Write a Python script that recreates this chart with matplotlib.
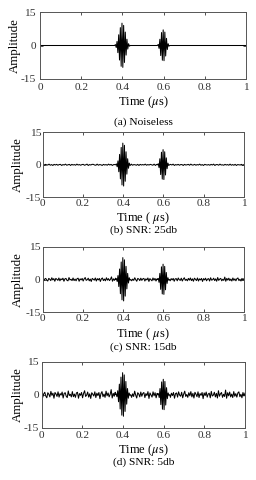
import numpy as np
import matplotlib
matplotlib.use("Agg")
import matplotlib.pyplot as plt

plt.rcParams['font.family'] = ['Liberation Serif', 'DejaVu Serif']
plt.rcParams['mathtext.fontset'] = 'stix'
plt.rcParams['axes.unicode_minus'] = False

# wave packet extrema (time in us, amplitude)
burst1_t = [0.362, 0.366, 0.370, 0.374, 0.378, 0.382, 0.386, 0.390, 0.394, 0.398,
            0.402, 0.406, 0.410, 0.414, 0.418, 0.422, 0.426, 0.430, 0.434, 0.438]
burst1_amp = [0.0, 0.4, -0.9, 1.8, -3.2, 4.8, -6.5, 8.0, -9.3, 10.0,
              -9.8, 9.0, -7.6, 6.0, -4.3, 2.8, -1.6, 0.8, -0.3, 0.0]
burst2_t = [0.570, 0.574, 0.578, 0.582, 0.586, 0.590, 0.594, 0.598,
            0.602, 0.606, 0.610, 0.614, 0.618, 0.622, 0.626, 0.630]
burst2_amp = [0.0, 0.5, -1.3, 2.8, -4.5, 5.8, -6.6, 7.0,
              -6.8, 6.0, -4.7, 3.2, -1.8, 0.8, -0.3, 0.0]

# background noise, sampled evenly over 0..1 us
noise_a = [0.0, 0.0]
noise_b = [0.1, -0.2, 0.2, 0.0, -0.1, 0.3, -0.2, 0.1, -0.3, 0.2,
           -0.1, 0.2, -0.2, 0.1, 0.2, -0.3, 0.1, -0.1, 0.3, -0.2,
           0.0, 0.2, -0.3, 0.2, -0.1, 0.1, -0.2, 0.3, -0.1, 0.1,
           -0.2, 0.1, 0.2, -0.2, 0.0, 0.3, -0.3, 0.1, -0.1, 0.2,
           0.2, -0.1, -0.2, 0.3, -0.2, 0.1, 0.0, -0.3, 0.2, -0.1,
           0.1, -0.2, 0.3, -0.1, 0.2, -0.3, 0.1, 0.1, -0.2, 0.2,
           -0.3, 0.2, -0.1, 0.1, -0.2, 0.3, -0.1, -0.1, 0.2, -0.2,
           0.3, -0.2, 0.1, 0.0, -0.2, 0.2, -0.3, 0.2, -0.1, 0.1,
           -0.1, 0.3, -0.2, 0.1, -0.1, 0.2, 0.0, -0.2, 0.3, -0.3,
           0.2, -0.1, 0.1, -0.3, 0.2, -0.1, 0.2, -0.2, 0.1, 0.0,
           -0.2, 0.2, -0.1, 0.3, -0.3, 0.1, -0.1, 0.2, -0.2, 0.1,
           0.1, -0.3, 0.2, -0.1, 0.0, 0.2, -0.2, 0.3, -0.1, -0.1,
           0.2, -0.2, 0.1, -0.1, 0.3, -0.2, 0.1, -0.3, 0.2, 0.0,
           -0.1, 0.1, -0.2, 0.2, -0.1, 0.3, -0.3, 0.1, 0.1, -0.2,
           0.3, -0.1, 0.0, -0.2, 0.2, -0.1, 0.1, -0.2, 0.3, -0.2,
           0.1, -0.2, 0.2, -0.3, 0.1, 0.0, -0.1, 0.2, -0.2, 0.1]
noise_c = [0.4, -0.6, 0.2, 0.5, -0.3, -0.7, 0.5, 0.1, -0.5, 0.8,
           -0.2, 0.4, -0.8, 0.5, 0.1, -0.4, 0.7, -0.6, 0.3, -0.1,
           0.6, -0.8, 0.3, 0.5, -0.4, -0.6, 0.9, -0.2, 0.1, -0.5,
           0.7, -0.5, 0.2, -0.6, 0.4, 0.6, -0.8, 0.3, -0.2, 0.5,
           -0.7, 0.3, 0.9, -0.4, -0.1, 0.6, -0.6, 0.2, -0.9, 0.5,
           0.1, -0.3, 0.7, -0.7, 0.4, -0.2, 0.5, -0.9, 0.3, 0.7,
           -0.5, 0.2, -0.6, 0.8, -0.3, 0.4, -0.5, 0.1, 1.2, -0.8,
           0.3, -0.4, 0.6, -0.7, 0.2, 0.5, -0.8, 0.6, -0.2, -0.5,
           0.8, -0.6, 0.1, 0.4, -0.7, 0.5, -0.3, 0.7, -0.6, 0.2,
           -0.4, 0.8, -0.1, -0.8, 0.5, 0.2, -0.5, 0.6, -0.4, 0.3,
           0.5, -0.7, 0.3, -0.2, 0.7, -0.9, 0.4, -0.1, -0.6, 0.7,
           -0.3, 0.5, -0.7, 0.3, 0.6, -0.5, 0.1, -0.7, 0.9, -0.3,
           0.2, -0.5, 0.6, -0.2, -0.4, 0.8, -0.6, 0.4, -0.2, 0.5,
           -0.8, 0.3, 0.4, -0.6, 0.7, -0.1, -0.4, 0.6, -0.7, 0.2,
           0.8, -0.4, 0.1, -0.6, 0.5, -0.3, 0.7, -0.5, 0.3, -0.8,
           0.6, 0.1, -0.5, 0.7, -0.7, 0.3, -0.2, 0.5, -0.9, 0.4,
           -0.2, 0.6, -0.6, 0.2, 0.4, -0.7, 0.8, -0.3, -0.1, 0.6,
           -0.5, 0.3, -0.8, 0.9, -0.4, 0.2, 0.5, -0.6, 0.1, -0.4,
           1.1, -0.8, 0.5, -0.3, 0.6, -0.5, 0.2, -0.7, 0.7, -0.4,
           0.3, -0.6, 0.4, 0.7, -0.5, 0.1, -0.7, 0.5, -0.3, 0.4]
noise_d = [0.8, -1.2, 0.4, 1.1, -0.6, -1.4, 0.9, 0.2, -1.0, 1.5,
           -0.3, 0.7, -1.6, 1.0, 0.3, -0.8, 1.3, -1.1, 0.5, -0.2,
           1.2, -1.5, 0.6, 0.9, -0.7, -1.3, 1.7, -0.4, 0.2, -1.0,
           1.4, -0.9, 0.3, -1.2, 0.8, 1.1, -1.6, 0.5, -0.3, 1.0,
           -1.4, 0.6, 1.8, -0.8, -0.2, 1.2, -1.1, 0.4, -1.7, 0.9,
           0.2, -0.6, 1.3, -1.3, 0.7, -0.4, 1.0, -1.8, 0.5, 1.4,
           -0.9, 0.3, -1.2, 1.6, -0.5, 0.8, -1.0, 0.1, 2.3, -1.5,
           0.6, -0.7, 1.1, -1.3, 0.4, 0.9, -1.6, 1.2, -0.3, -0.9,
           1.5, -1.1, 0.2, 0.7, -1.4, 1.0, -0.6, 1.3, -1.2, 0.4,
           -0.8, 1.6, -0.2, -1.5, 0.9, 0.3, -1.0, 1.2, -0.7, 0.6,
           1.0, -1.3, 0.5, -0.4, 1.4, -1.7, 0.8, -0.1, -1.1, 1.3,
           -0.5, 0.9, -1.4, 0.6, 1.1, -0.9, 0.2, -1.3, 1.7, -0.6,
           0.4, -1.0, 1.2, -0.3, -0.8, 1.5, -1.2, 0.7, -0.4, 1.0,
           -1.6, 0.5, 0.8, -1.1, 1.3, -0.2, -0.7, 1.1, -1.4, 0.3,
           1.6, -0.8, 0.1, -1.2, 0.9, -0.5, 1.4, -1.0, 0.6, -1.5,
           1.1, 0.2, -0.9, 1.3, -1.3, 0.5, -0.3, 1.0, -1.8, 0.8,
           -0.4, 1.2, -1.1, 0.3, 0.7, -1.4, 1.5, -0.6, -0.2, 1.1,
           -1.0, 0.6, -1.5, 1.8, -0.7, 0.4, 1.0, -1.2, 0.2, -0.8,
           2.1, -1.6, 0.9, -0.5, 1.2, -1.0, 0.3, -1.3, 1.4, -0.7,
           0.5, -1.1, 0.8, 1.3, -0.9, 0.2, -1.4, 1.0, -0.6, 0.7]

xticks = [0, 0.2, 0.4, 0.6, 0.8, 1]
xticklabels = ['0', '0.2', '0.4', '0.6', '0.8', '1']
yticks = [-15, 0, 15]
captions = ['(a) Noiseless', '(b) SNR: 25db', '(c) SNR: 15db', '(d) SNR: 5db']
xlabels = [r'Time ($\mu$s)', r'Time ( $\mu$s)', r'Time ( $\mu$s)', r'Time ($\mu$s)']

W, H = 256, 480
# per panel pixel layout: axes box (l, t, r, b), xtick pad, ytick pad, xlabel y, caption y, ylabel x
layout = [
    ((40.0, 12.0, 246.0, 79.0), 3.0, 3.0, 102.0, 122.0, 15.0),
    ((42.7, 132.3, 244.0, 197.3), 1.4, 1.0, 218.0, 230.0, 18.0),
    ((42.7, 246.7, 244.0, 312.3), 1.4, 1.5, 334.0, 347.5, 18.0),
    ((41.7, 361.7, 245.0, 427.7), 2.2, 2.0, 450.0, 462.0, 17.5),
]


def build_trace(noise):
    tn = np.linspace(0, 1, len(noise))
    yn = np.array(noise)
    keep = ~(((tn >= burst1_t[0]) & (tn <= burst1_t[-1])) |
             ((tn >= burst2_t[0]) & (tn <= burst2_t[-1])))
    t = np.concatenate([tn[keep], burst1_t, burst2_t])
    y = np.concatenate([yn[keep], burst1_amp, burst2_amp])
    order = np.argsort(t)
    return t[order], y[order]


fig = plt.figure(figsize=(W / 100, H / 100), dpi=100)

for i, noise in enumerate([noise_a, noise_b, noise_c, noise_d]):
    (l, t, r, b), xpad, ypad, xl_y, cap_y, yl_x = layout[i]
    ax = fig.add_axes([l / W, 1 - b / H, (r - l) / W, (b - t) / H])
    tt, yy = build_trace(noise)
    ax.plot(tt, yy, color='black', lw=0.75)
    ax.set_xlim(0, 1)
    ax.set_ylim(-15, 15)
    ax.set_xticks(xticks)
    ax.set_xticklabels(xticklabels)
    ax.set_yticks(yticks)
    ax.tick_params(direction='in', top=True, right=True, length=2.2, width=0.6,
                   labelsize=8.2, colors='#333333')
    ax.tick_params(axis='x', pad=xpad)
    ax.tick_params(axis='y', pad=ypad)
    for s in ax.spines.values():
        s.set_linewidth(0.7)
        s.set_color('#555555')
    fig.text(0.5 * (l + r) / W, 1 - xl_y / H, xlabels[i], fontsize=9.0,
             ha='center', va='center')
    fig.text(0.5 * (l + r) / W, 1 - cap_y / H, captions[i], fontsize=8.2,
             ha='center', va='center')
    fig.text(yl_x / W, 1 - 0.5 * (t + b) / H, 'Amplitude', fontsize=9.3,
             rotation=90, ha='center', va='center')

fig.savefig('out.png', dpi=100)
